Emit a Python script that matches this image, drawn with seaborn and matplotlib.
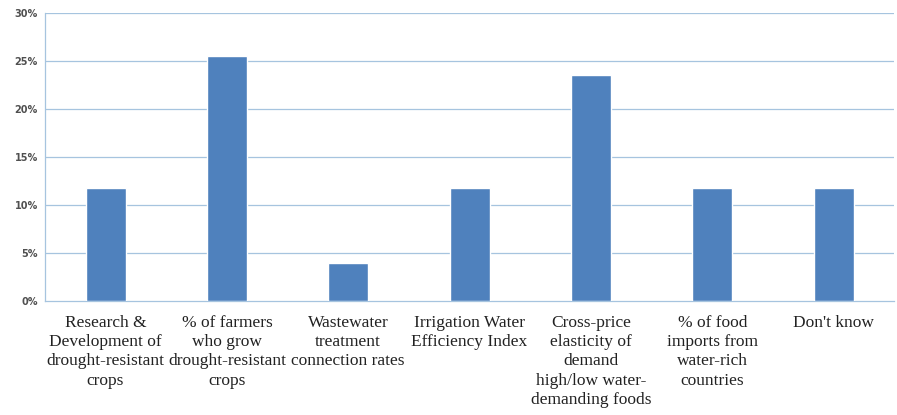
import matplotlib
matplotlib.use("Agg")
import matplotlib.pyplot as plt
import seaborn as sns
import pandas as pd
from matplotlib.ticker import FixedLocator

categories = [
    "Research &\nDevelopment of\ndrought-resistant\ncrops",
    "% of farmers\nwho grow\ndrought-resistant\ncrops",
    "Wastewater\ntreatment\nconnection rates",
    "Irrigation Water\nEfficiency Index",
    "Cross-price\nelasticity of\ndemand\nhigh/low water-\ndemanding foods",
    "% of food\nimports from\nwater-rich\ncountries",
    "Don't know",
]
values = [11.8, 25.5, 3.9, 11.8, 23.5, 11.8, 11.8]
y_ticks = [0, 5, 10, 15, 20, 25, 30]
y_tick_labels = ["0%", "5%", "10%", "15%", "20%", "25%", "30%"]

df = pd.DataFrame({"category": categories, "value": values})

sns.set_style("white")
fig = plt.figure(figsize=(8.97, 4.15), dpi=100)
ax = fig.add_axes([0.050, 0.275, 0.947, 0.694])

sns.barplot(data=df, x="category", y="value", color="#4F81BD", saturation=1,
            width=0.33, ax=ax, zorder=3)

grid_c = "#A6C4DF"
ax.set_ylim(0, 30)
ax.set_xlim(-0.5, len(categories) - 0.5)
ax.set_yticks(y_ticks)
ax.set_yticklabels(y_tick_labels, fontsize=7, color="#505050",
                   family="DejaVu Sans", fontweight="bold")
for y in y_ticks[1:]:
    ax.axhline(y, color=grid_c, lw=0.9, zorder=1)

ax.set_xticks(range(len(categories)))
ax.set_xticklabels(categories, fontsize=12.5, family="Liberation Serif",
                   color="#222222", linespacing=1.28)
ax.tick_params(axis="x", which="major", length=0, pad=10)
ax.xaxis.set_minor_locator(FixedLocator([i - 0.5 for i in range(len(categories) + 1)]))
ax.tick_params(axis="x", which="minor", length=4, color=grid_c, width=0.9, direction="out")
ax.tick_params(axis="y", which="major", length=3, color=grid_c, width=0.9, pad=2)

for s in ["top", "right"]:
    ax.spines[s].set_visible(False)
for s in ["left", "bottom"]:
    ax.spines[s].set_color(grid_c)
    ax.spines[s].set_linewidth(0.9)
ax.set_xlabel("")
ax.set_ylabel("")

fig.savefig("out.png", dpi=100)
